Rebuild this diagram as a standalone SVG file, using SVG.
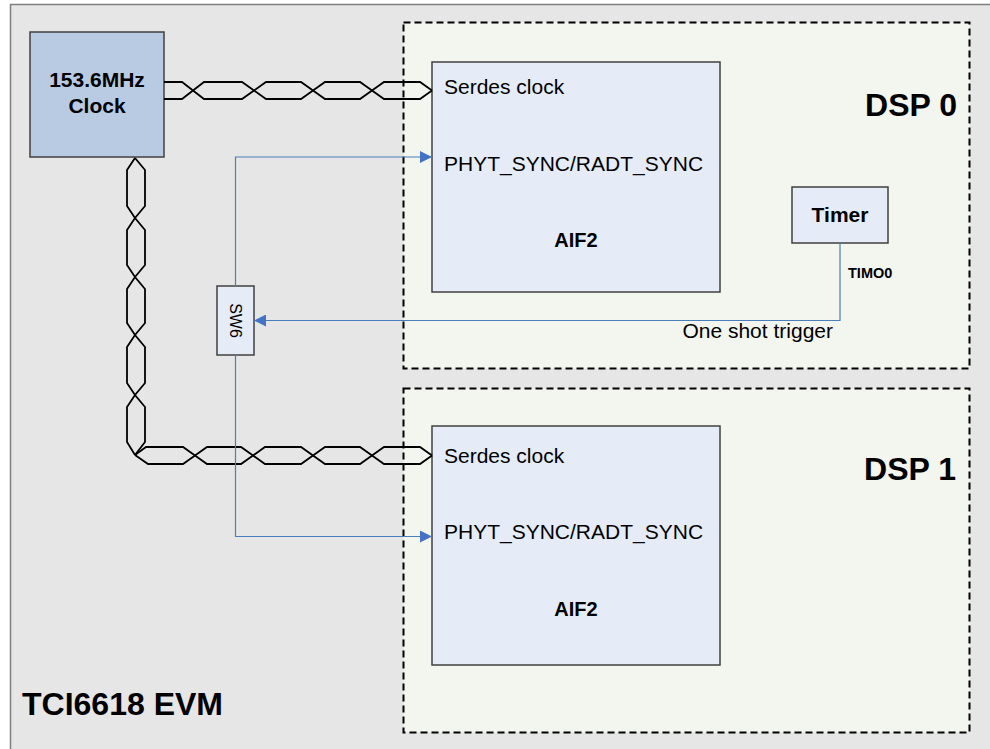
<svg xmlns="http://www.w3.org/2000/svg" width="990" height="749" viewBox="0 0 990 749">
  <style>
    text { font-family: "Liberation Sans", Arial, sans-serif; fill: #000; }
    .bold { font-weight: bold; }
    .board { fill: #e6e6e6; stroke: #7f7f7f; stroke-width: 1.5; }
    .dsp { fill: #f3f5ef; stroke: #000; stroke-width: 2; stroke-dasharray: 7 4; }
    .blk { fill: #e6ecf7; stroke: #404040; stroke-width: 1.5; }
    .clk { fill: #b9cbe3; stroke: #404040; stroke-width: 1.5; }
    .pair { fill: none; stroke: #000; stroke-width: 1.8; stroke-linejoin: miter; }
    .sig { fill: none; stroke: #4a7ebb; stroke-width: 1.2; }
  </style>
  <defs>
    <marker id="arrow" viewBox="0 0 12 12" refX="12" refY="6" markerWidth="12" markerHeight="12" markerUnits="userSpaceOnUse" orient="auto">
      <path d="M0,0 L12,6 L0,12 Z" fill="#4472c4"/>
    </marker>
  </defs>

  <rect width="990" height="749" fill="#ffffff"/>

  <!-- evaluation board -->
  <g id="board">
    <rect class="board" x="10.5" y="4.5" width="990" height="760"/>
    <text class="bold" x="22" y="715" font-size="32">TCI6618 EVM</text>
  </g>

  <!-- DSP 0 -->
  <g id="dsp0">
    <rect class="dsp" x="403.5" y="22.5" width="566" height="346"/>
    <text class="bold" x="957" y="116" font-size="32" text-anchor="end">DSP 0</text>
  </g>

  <!-- DSP 1 -->
  <g id="dsp1">
    <rect class="dsp" x="403.5" y="388.5" width="566" height="344"/>
    <text class="bold" x="956" y="480" font-size="32" text-anchor="end">DSP 1</text>
  </g>

  <!-- clock source -->
  <g id="clock">
    <rect class="clk" x="30" y="32" width="134" height="125"/>
    <text class="bold" x="97" y="87" font-size="21" text-anchor="middle">153.6MHz</text>
    <text class="bold" x="97" y="113" font-size="21" text-anchor="middle">Clock</text>
  </g>

  <!-- AIF2 in DSP 0 -->
  <g id="aif2-dsp0">
    <rect class="blk" x="432" y="62" width="288" height="230"/>
    <text x="444" y="94" font-size="21">Serdes clock</text>
    <text x="444" y="171" font-size="21">PHYT_SYNC/RADT_SYNC</text>
    <text class="bold" x="576" y="247" font-size="20" text-anchor="middle">AIF2</text>
  </g>

  <!-- timer in DSP 0 -->
  <g id="timer">
    <rect class="blk" x="792" y="187" width="96" height="56"/>
    <text class="bold" x="840" y="222" font-size="21" text-anchor="middle">Timer</text>
  </g>

  <!-- AIF2 in DSP 1 -->
  <g id="aif2-dsp1">
    <rect class="blk" x="432" y="426" width="288" height="239"/>
    <text x="444" y="463" font-size="21">Serdes clock</text>
    <text x="444" y="539" font-size="21">PHYT_SYNC/RADT_SYNC</text>
    <text class="bold" x="576" y="616" font-size="20" text-anchor="middle">AIF2</text>
  </g>

  <!-- switch SW6 -->
  <g id="sw6">
    <rect class="blk" x="217" y="286" width="37" height="69"/>
    <text x="235.5" y="320.5" font-size="16" text-anchor="middle" dominant-baseline="central" transform="rotate(90 235.5 320.5)">SW6</text>
  </g>

  <!-- connectors -->
  <g id="connectors">
    <!-- differential clock pair to DSP 0 -->
    <polyline class="pair" points="164,82 182,82 193,90.5 204,99 242,99 254,90.5 266,82 301,82 313,90.5 325,99 360,99 372,90.5 384,82 420,82 432,90.5"/>
    <polyline class="pair" points="164,99 182,99 193,90.5 204,82 242,82 254,90.5 266,99 301,99 313,90.5 325,82 360,82 372,90.5 384,99 420,99 432,90.5"/>

    <!-- differential clock pair down the board -->
    <polyline class="pair" points="135,158 127,170 127,206 135,218 145,230 145,265 135,277 127,289 127,323 135,335 145,347 145,383 135,395 127,407 127,442 135,455"/>
    <polyline class="pair" points="135,158 145,170 145,206 135,218 127,230 127,265 135,277 145,289 145,323 135,335 127,347 127,383 135,395 145,407 145,442 135,455"/>

    <!-- differential clock pair to DSP 1 -->
    <polyline class="pair" points="135,455 146,447 183,447 195,455.5 207,464 241,464 253,455.5 265,447 301,447 313,455.5 325,464 360,464 372,455.5 384,447 420,447 432,455.5"/>
    <polyline class="pair" points="135,455 148,464 183,464 195,455.5 207,447 241,447 253,455.5 265,464 301,464 313,455.5 325,447 360,447 372,455.5 384,464 420,464 432,455.5"/>

    <!-- sync from SW6 to both AIF2 blocks -->
    <polyline class="sig" points="235.5,286 235.5,157 432,157" marker-end="url(#arrow)"/>
    <polyline class="sig" points="235.5,355 235.5,536.5 432,536.5" marker-end="url(#arrow)"/>

    <!-- timer output trigger -->
    <polyline class="sig" points="840,243 840,320.5 254,320.5" marker-end="url(#arrow)"/>
    <text class="bold" x="848" y="278" font-size="14.5">TIMO0</text>
    <text x="833" y="338" font-size="21" text-anchor="end">One shot trigger</text>
  </g>
</svg>
